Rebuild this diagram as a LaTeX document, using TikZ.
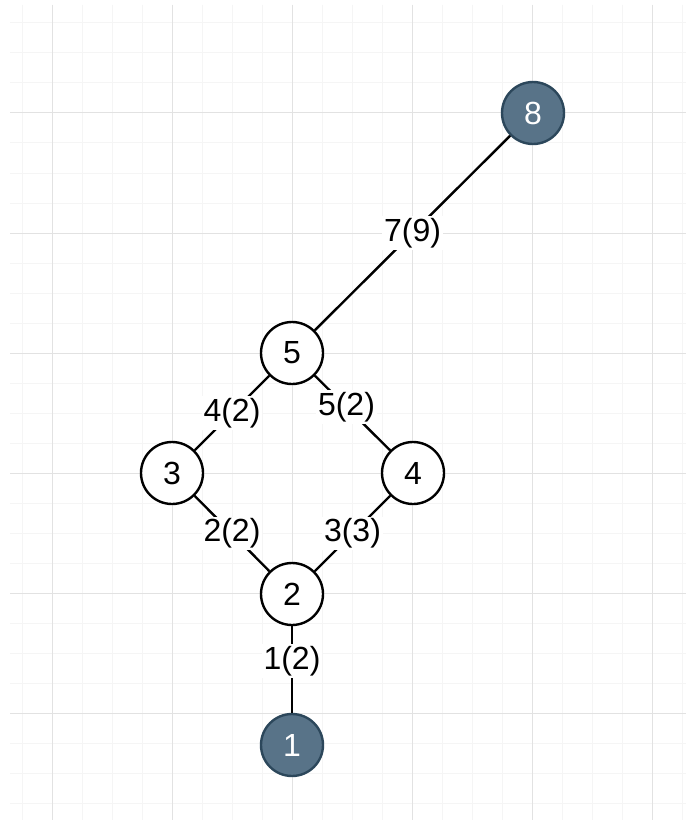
\documentclass[tikz,border=0pt]{standalone}
\usepackage{fontspec}
\setmainfont{Liberation Sans}
\definecolor{gridmajor}{HTML}{E2E2E2}
\definecolor{gridminor}{HTML}{F5F5F5}
\definecolor{darkfill}{HTML}{587388}
\definecolor{darkborder}{HTML}{2C475B}
\begin{document}
\begin{tikzpicture}[x=0.75pt,y=-0.75pt,
  vert/.style={circle,draw=black,fill=white,line width=1.8pt,minimum size=46.5pt,inner sep=0pt,font=\fontsize{24}{28}\selectfont},
  endvert/.style={vert,draw=darkborder,fill=darkfill,text=white},
  edgeline/.style={line width=1.8pt,black},
  lbl/.style={fill=white,inner sep=1.5pt,font=\fontsize{24}{28}\selectfont}]
\useasboundingbox (0,0) rectangle (686,820);
\fill[white] (0,0) rectangle (686,820);
\foreach \x in {22,52,...,683} \draw[gridminor,line width=0.75pt] (\x,5) -- (\x,820);
\foreach \y in {23,53,...,805} \draw[gridminor,line width=0.75pt] (10,\y) -- (686,\y);
\foreach \x in {52,172,...,653} \draw[gridmajor,line width=0.75pt] (\x,5) -- (\x,820);
\foreach \y in {113,233,...,714} \draw[gridmajor,line width=0.75pt] (10,\y) -- (686,\y);
\node[endvert] (n8) at (533,113) {8};
\node[vert] (n5) at (292,353) {5};
\node[vert] (n3) at (172,473) {3};
\node[vert] (n4) at (413,473) {4};
\node[vert] (n2) at (292,594) {2};
\node[endvert] (n1) at (292,745) {1};
\draw[edgeline] (n5) -- node[lbl,pos=0.5] {7(9)} (n8);
\draw[edgeline] (n5) -- node[lbl,pos=0.5] {4(2)} (n3);
\draw[edgeline] (n5) -- node[lbl,pos=0.42] {5(2)} (n4);
\draw[edgeline] (n3) -- node[lbl,pos=0.5] {2(2)} (n2);
\draw[edgeline] (n4) -- node[lbl,pos=0.5] {3(3)} (n2);
\draw[edgeline] (n2) -- node[lbl,pos=0.4] {1(2)} (n1);
\end{tikzpicture}
\end{document}
